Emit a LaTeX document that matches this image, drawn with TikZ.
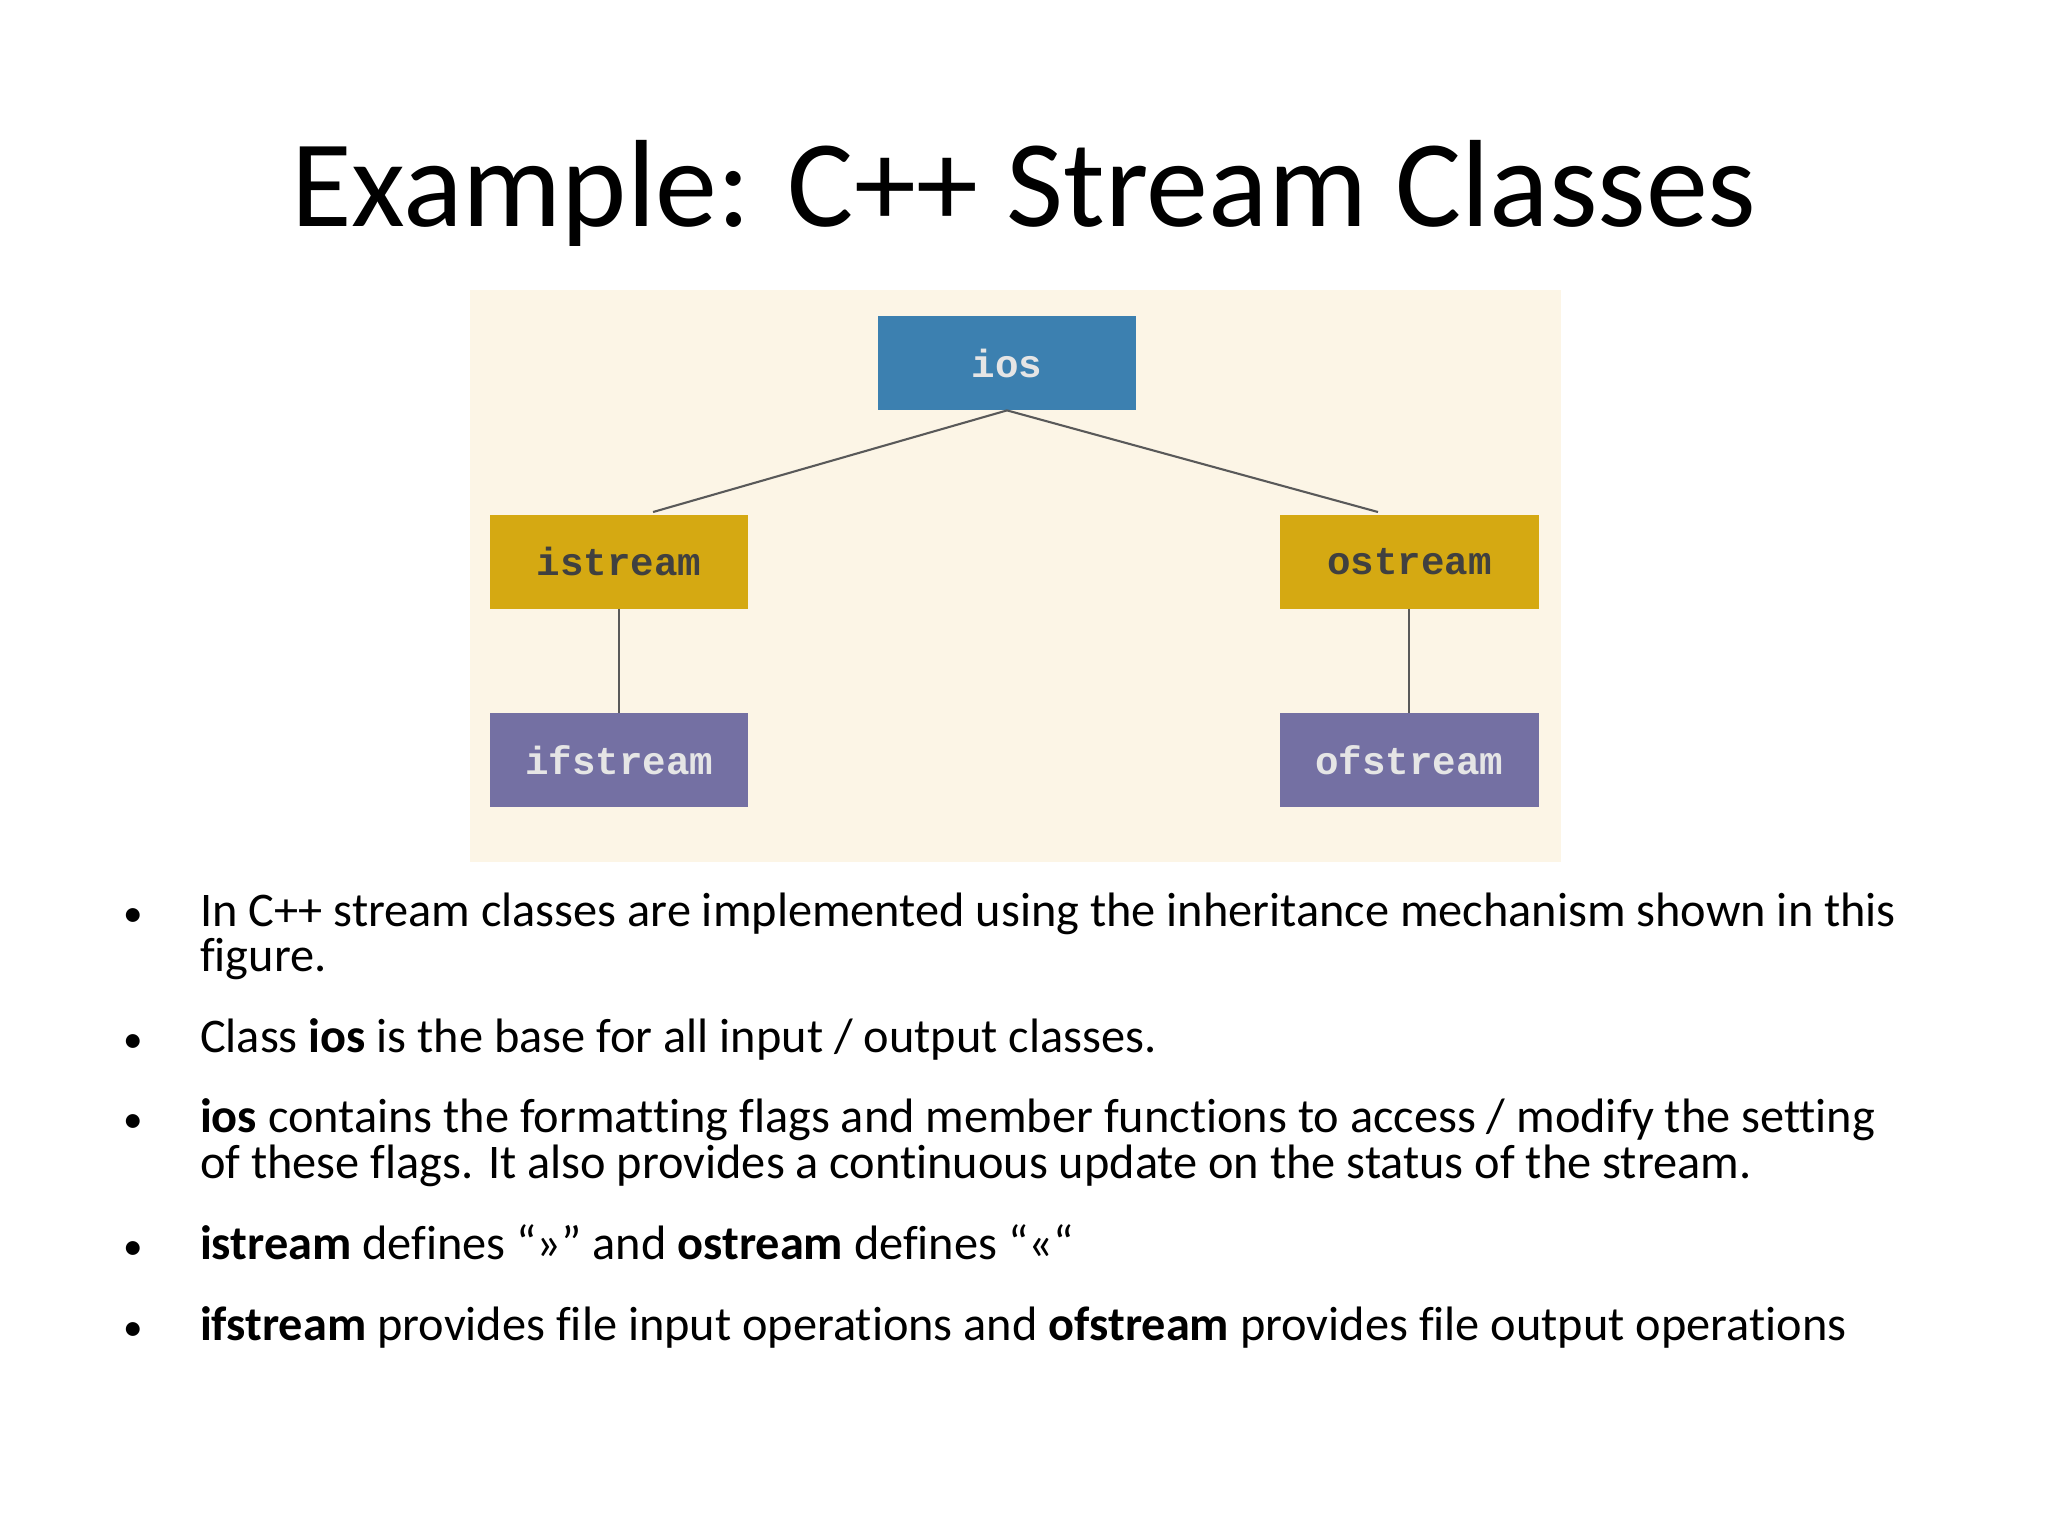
\documentclass[tikz,border=0pt]{standalone}
\usepackage{fontspec}
\setmainfont[Ligatures={NoCommon}]{Carlito}
\newfontfamily\boxfont{Liberation Mono}
\definecolor{panel}{HTML}{FCF5E6}
\definecolor{iosc}{HTML}{3C80B0}
\definecolor{gold}{HTML}{D5A912}
\definecolor{purp}{HTML}{7470A3}
\begin{document}
\begin{tikzpicture}[x=1pt,y=-1pt,
  cls/.style={draw=none,minimum width=198pt,minimum height=72pt,inner sep=0pt,font=\boxfont\bfseries\fontsize{30}{31}\selectfont},
  link/.style={draw=black!65,line width=1.6pt},
  bul/.style={anchor=base west,font=\fontsize{37}{39}\selectfont,inner sep=0pt}]
\useasboundingbox (0,0) rectangle (1568,1176);
\fill[white] (0,0) rectangle (1568,1176);
\fill[panel] (360,222) rectangle (1195,660);
\node[font=\fontsize{95}{97}\selectfont,inner sep=0pt] (title) at (784,148) {Example: C++ Stream Classes};
\node[cls,fill=iosc,text=white!90!black] (ios) at (771,278) {ios};
\node[cls,fill=gold,text=black!75] (is) at (474,430) {istream};
\node[cls,fill=gold,text=black!75] (os) at (1079,430) {ostream};
\node[cls,fill=purp,text=white!90!black] (ifs) at (474,582) {ifstream};
\node[cls,fill=purp,text=white!90!black] (ofs) at (1079,582) {ofstream};
\coordinate (a) at (500,392);
\coordinate (b) at (1055,392);
\draw[link] (ios.south) -- (a);
\draw[link] (ios.south) -- (b);
\draw[link] (is) -- (ifs);
\draw[link] (os) -- (ofs);
\foreach \y in {709,806,867,964,1026}{\node[bul,font=\fontsize{30}{32}\selectfont] at (94,\y) {•};}
\node[bul] (t1) at (153,709) {In C++ stream classes are implemented using the inheritance mechanism shown in this};
\node[bul] (t1b) at (153,744) {figure.};
\node[bul] (t2) at (153,806) {Class \textbf{ios} is the base for all input / output classes.};
\node[bul] (t3) at (153,867) {\textbf{ios} contains the formatting flags and member functions to access / modify the setting};
\node[bul] (t3b) at (153,902) {of these flags. It also provides a continuous update on the status of the stream.};
\node[bul] (t4) at (153,964) {\textbf{istream} defines “\textgreater\textgreater” and \textbf{ostream} defines “\textless\textless“};
\node[bul] (t5) at (153,1026) {\textbf{ifstream} provides file input operations and \textbf{ofstream} provides file output operations};
\end{tikzpicture}
\end{document}
